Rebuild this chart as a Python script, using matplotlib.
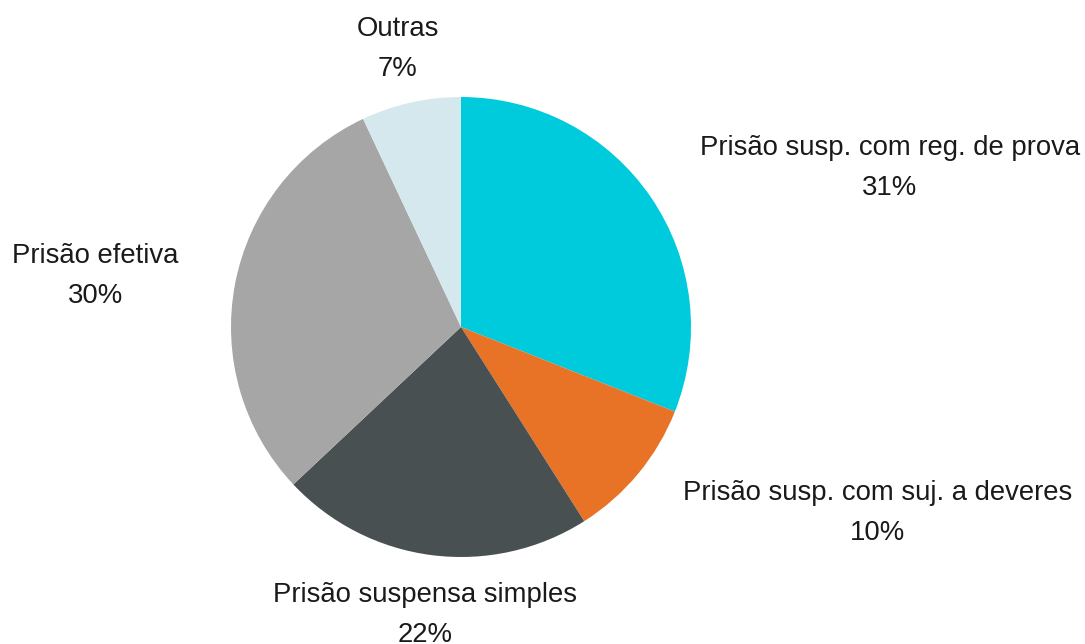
import matplotlib
matplotlib.use("Agg")
import matplotlib.pyplot as plt
import numpy as np

plt.rcParams["font.family"] = ["Liberation Sans", "DejaVu Sans"]

categories = [
    "Prisão susp. com reg. de prova",
    "Prisão susp. com suj. a deveres",
    "Prisão suspensa simples",
    "Prisão efetiva",
    "Outras",
]
shares = [31, 10, 22, 30, 7]
colors = ["#00CBDC", "#E87226", "#495052", "#A6A6A6", "#D4E8EE"]

# label anchor points (data units, pie radius = 1)
label_pos = [(1.865, 0.690), (1.813, -0.810), (-0.157, -1.253),
             (-1.591, 0.220), (-0.274, 1.210)]

fig = plt.figure(figsize=(10.85, 6.44), dpi=100)
ax = fig.add_axes([231 / 1085, (644 - 557) / 644, 460 / 1085, 460 / 644])
ax.pie(shares, colors=colors, startangle=90, counterclock=False,
       radius=1, wedgeprops=dict(linewidth=0))
ax.set_xlim(-1, 1)
ax.set_ylim(-1, 1)
ax.set_aspect("equal")
ax.axis("off")

for name, val, (x, y) in zip(categories, shares, label_pos):
    ax.text(x, y, f"{name}\n{val}%", ha="center", va="center",
            fontsize=19.8, color="#1a1a1a", linespacing=1.7, clip_on=False)

fig.savefig("out.png", dpi=100, facecolor="white")
